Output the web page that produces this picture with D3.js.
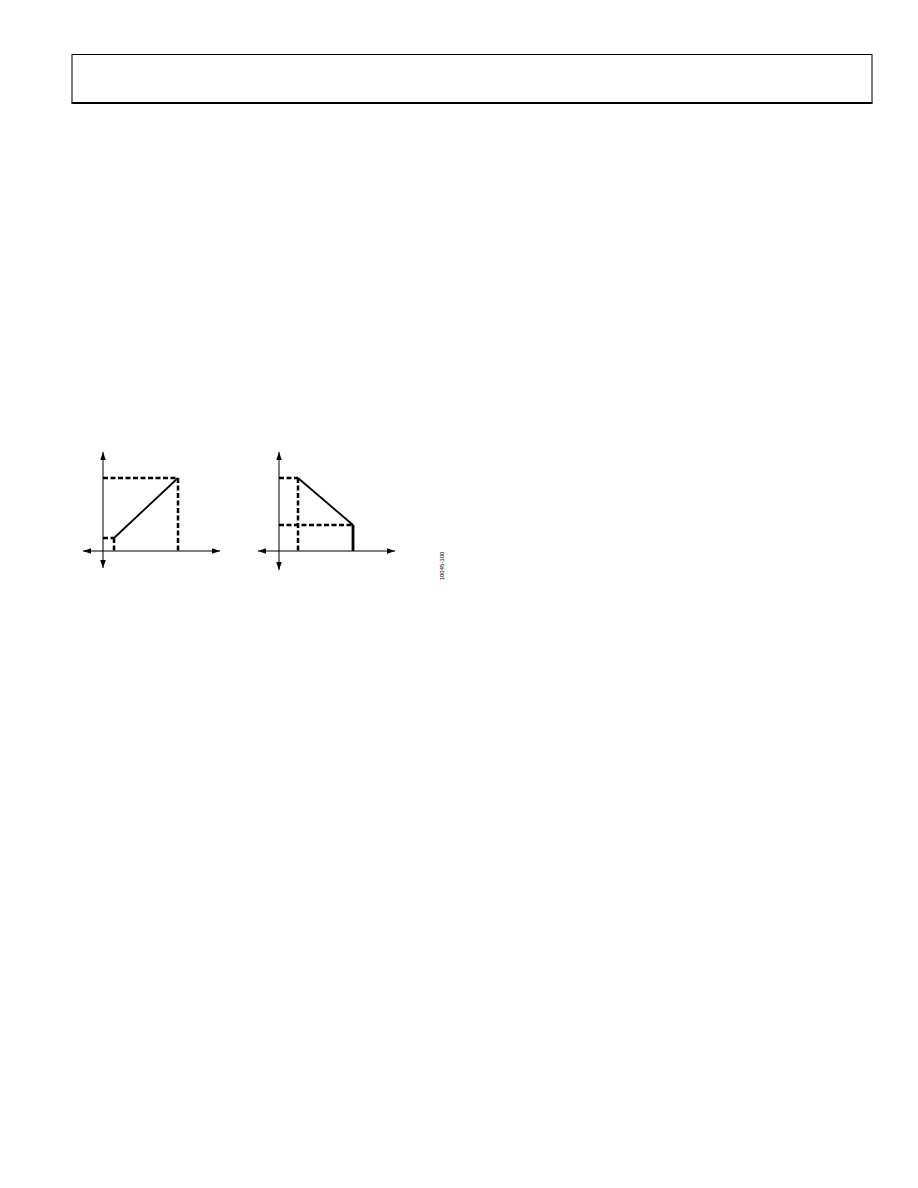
<!DOCTYPE html>
<html><head><meta charset="utf-8">
<script src="https://cdn.jsdelivr.net/npm/d3@7"></script>
<style>body{margin:0;background:#fff}svg{display:block}</style>
</head><body>
<script>
// Data (abstract units, 1 unit ≈ 1 plot pixel)
const leftAxisX = [-20, 117];
const leftAxisY = [-17, 99];
const leftSolid = [[11, 13], [75, 73]];
const leftDashed = [
  [[0, 73], [75, 73]],
  [[75, 73], [75, 0]],
  [[0, 13], [11, 13]],
  [[11, 13], [11, 0]]
];
const rightAxisX = [-21, 116];
const rightAxisY = [-19, 99];
const rightSolid = [[19, 73], [74, 26]];
const rightThick = [[74, 26], [74, 0]];
const rightDashed = [
  [[0, 73], [19, 73]],
  [[19, 73], [19, 0]],
  [[0, 26], [74, 26]]
];
const figureId = "10045-300";

const W = 918, H = 1188;
const svg = d3.select("body").append("svg").attr("width", W).attr("height", H);

// header frame
svg.append("rect").attr("x", 72).attr("y", 54.5).attr("width", 800).attr("height", 48)
  .attr("fill", "none").attr("stroke", "#000").attr("stroke-width", 1);
svg.append("line").attr("x1", 71.5).attr("x2", 872.5).attr("y1", 103).attr("y2", 103)
  .attr("stroke", "#000").attr("stroke-width", 2);

const defs = svg.append("defs");
defs.append("marker").attr("id", "arr").attr("viewBox", "0 0 10 10")
  .attr("refX", 10).attr("refY", 5).attr("markerWidth", 8).attr("markerHeight", 8)
  .attr("markerUnits", "userSpaceOnUse").attr("orient", "auto")
  .append("path").attr("d", "M0,1.5 L10,5 L0,8.5 Z").attr("fill", "#000");

function panel(ox, oy, axX, axY, solid, dashed, thick) {
  const x = d3.scaleLinear().domain([0, 100]).range([ox, ox + 100]);
  const y = d3.scaleLinear().domain([0, 100]).range([oy, oy - 100]);
  const g = svg.append("g");
  const line = d3.line().x(d => x(d[0])).y(d => y(d[1]));
  // axes
  [[[0, 0], [axX[0], 0]], [[0, 0], [axX[1], 0]], [[0, 0], [0, axY[0]]], [[0, 0], [0, axY[1]]]]
    .forEach(seg => g.append("path").attr("d", line(seg)).attr("stroke", "#000")
      .attr("stroke-width", 1).attr("fill", "none").attr("marker-end", "url(#arr)"));
  dashed.forEach(seg => g.append("path").attr("d", line(seg)).attr("stroke", "#000")
    .attr("stroke-width", 2.5).attr("stroke-dasharray", "5,2.5").attr("fill", "none"));
  g.append("path").attr("d", line(solid)).attr("stroke", "#000").attr("stroke-width", 1.8)
    .attr("fill", "none").attr("stroke-linejoin", "round");
  if (thick) g.append("path").attr("d", line(thick)).attr("stroke", "#000")
    .attr("stroke-width", 2.8).attr("fill", "none");
}
panel(103, 551, leftAxisX, leftAxisY, leftSolid, leftDashed, null);
panel(279, 551, rightAxisX, rightAxisY, rightSolid, rightDashed, rightThick);

svg.append("text").attr("transform", "translate(444,566) rotate(-90)")
  .attr("text-anchor", "middle").attr("font-family", "Liberation Sans Narrow, Arial Narrow, Liberation Sans, sans-serif")
  .attr("font-size", 6).attr("fill", "#000").text(figureId);
</script>
</body></html>
